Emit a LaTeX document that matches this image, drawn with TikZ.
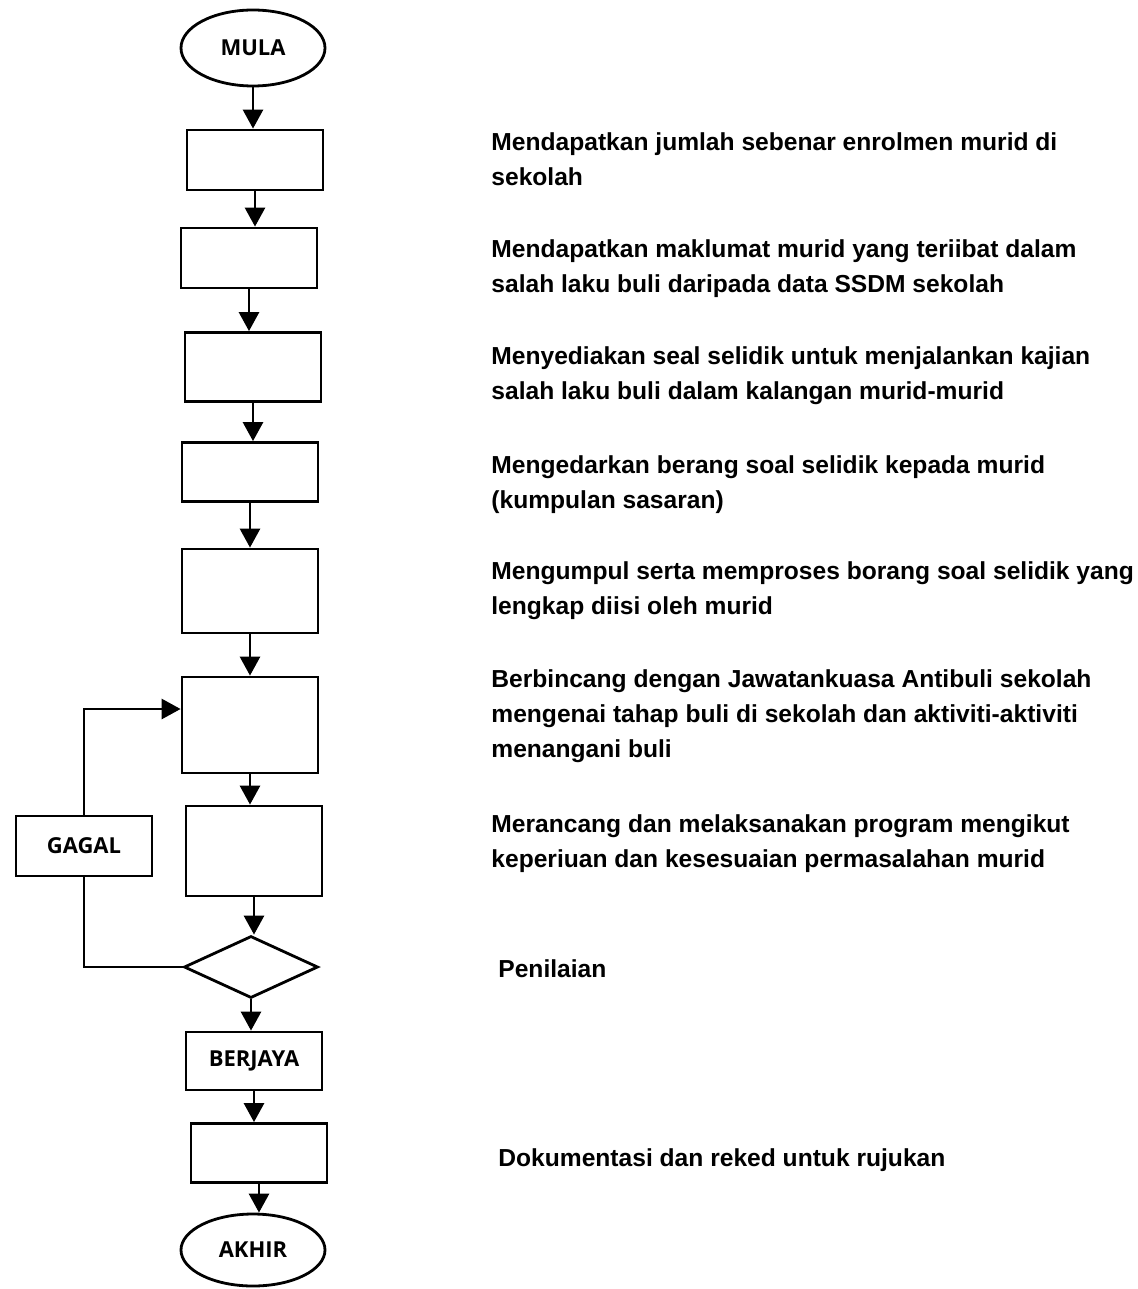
\documentclass[tikz,border=0pt]{standalone}
\usepackage{fontspec}
\setmainfont{Liberation Sans}
\newfontfamily\tagfont{Open Sans}
\usetikzlibrary{shapes.geometric,arrows.meta}

\begin{document}
\begin{tikzpicture}[
		x=1pt, y=-1pt,
		line width=2.8pt,
		box/.style={rectangle, draw=black, minimum width=136pt, inner sep=0pt, font=\tagfont\bfseries\fontsize{22}{26}\selectfont},
		term/.style={ellipse, draw=black, minimum width=144pt, minimum height=76pt, inner sep=0pt, font=\tagfont\bfseries\fontsize{22}{26}\selectfont},
		decision/.style={diamond, draw=black, minimum width=134pt, minimum height=62pt, inner sep=0pt},
		desc/.style={anchor=north west, align=left, inner sep=0pt, font=\bfseries\fontsize{24.6}{35}\selectfont},
		arrow/.style={-{Triangle[length=19pt,width=20pt]}}
		]
		\useasboundingbox (0,0) rectangle (1137,1289);
		% flow boxes
		\node[term] (mula) at (253,48) {MULA};
		\node[box, minimum height=60pt] (enrol) at (255,160) {};
		\node[box, minimum height=60pt] (ssdm) at (249,258) {};
		\node[box, minimum height=69pt] (soal) at (253,367) {};
		\node[box, minimum height=59pt] (edar) at (250,472) {};
		\node[box, minimum height=84pt] (kumpul) at (250,591) {};
		\node[box, minimum height=96pt] (bincang) at (250,725) {};
		\node[box, minimum height=90pt] (rancang) at (254,851) {};
		\node[decision] (nilai) at (251,967) {};
		\node[box, minimum height=58pt] (berjaya) at (254,1061) {BERJAYA};
		\node[box, minimum height=59pt] (dokumen) at (259,1153) {};
		\node[term, minimum height=72pt] (akhir) at (253,1250) {AKHIR};
		\node[box, minimum height=60pt] (gagal) at (84,846) {GAGAL};
		% arrows
		\foreach \a/\b in {mula/enrol, enrol/ssdm, ssdm/soal, soal/edar, edar/kumpul, kumpul/bincang, bincang/rancang, rancang/nilai, nilai/berjaya, berjaya/dokumen, dokumen/akhir}
			\draw[arrow] (\a.south) -- (\a.south |- \b.north);
		\draw (nilai.west) -| (gagal.south);
		\draw[arrow] (gagal.north) |- ([yshift=16pt]bincang.west);
		% descriptions
		\node[desc] (d1) at (490,131) {Mendapatkan jumlah sebenar enrolmen murid di\\sekolah};
		\node[desc] (d2) at (490,238) {Mendapatkan maklumat murid yang teriibat dalam\\salah laku buli daripada data SSDM sekolah};
		\node[desc] (d3) at (490,345) {Menyediakan seal selidik untuk menjalankan kajian\\salah laku buli dalam kalangan murid-murid};
		\node[desc] (d4) at (490,454) {Mengedarkan berang soal selidik kepada murid\\(kumpulan sasaran)};
		\node[desc] (d5) at (490,560) {Mengumpul serta memproses borang soal selidik yang\\lengkap diisi oleh murid};
		\node[desc] (d6) at (490,668) {Berbincang dengan Jawatankuasa Antibuli sekolah\\mengenai tahap buli di sekolah dan aktiviti-aktiviti\\menangani buli};
		\node[desc] (d7) at (490,813) {Merancang dan melaksanakan program mengikut\\keperiuan dan kesesuaian permasalahan murid};
		\node[desc] (d8) at (497,958) {Penilaian};
		\node[desc] (d9) at (497,1147) {Dokumentasi dan reked untuk rujukan};
	\end{tikzpicture}
\end{document}
